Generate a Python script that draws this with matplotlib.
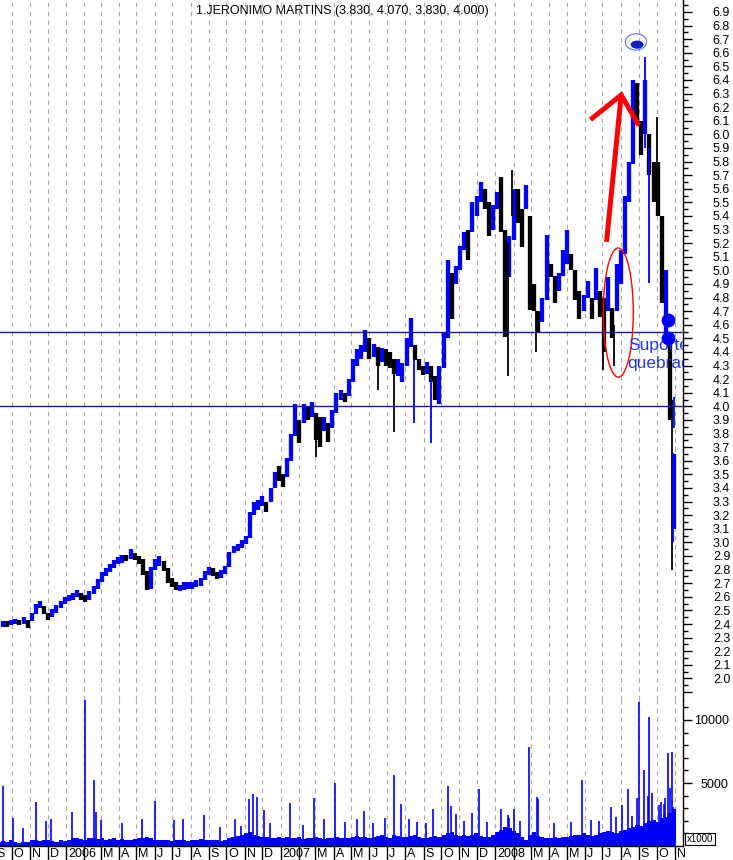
import numpy as np
import pandas as pd
import matplotlib
matplotlib.use('Agg')
import matplotlib.pyplot as plt
import matplotlib.dates as mdates
import matplotlib.transforms as mtransforms
from matplotlib.patches import Ellipse
from matplotlib.ticker import FixedLocator, NullLocator

plt.rcParams['font.family'] = ['Liberation Sans Narrow', 'Liberation Sans', 'DejaVu Sans']

title = "1.JERONIMO MARTINS (3.830, 4.070, 3.830, 4.000)"

# weekly bars (Friday of each week)
weeks = pd.date_range('2005-09-09', periods=165, freq='7D')
wk_low = [2.37, 2.38, 2.38, 2.39, 2.40, 2.39, 2.40, 2.37, 2.42, 2.47,
          2.52, 2.47, 2.43, 2.45, 2.48, 2.52, 2.55, 2.57, 2.58, 2.60,
          2.58, 2.56, 2.58, 2.62, 2.66, 2.71, 2.75, 2.78, 2.81, 2.84,
          2.85, 2.86, 2.88, 2.87, 2.84, 2.76, 2.65, 2.66, 2.80, 2.83,
          2.79, 2.70, 2.67, 2.65, 2.64, 2.65, 2.66, 2.66, 2.67, 2.68,
          2.72, 2.76, 2.75, 2.73, 2.74, 2.77, 2.82, 2.92, 2.94, 2.96,
          2.99, 3.03, 3.20, 3.24, 3.27, 3.22, 3.30, 3.40, 3.45, 3.41,
          3.48, 3.60, 3.78, 3.73, 3.88, 3.90, 3.92, 3.75, 3.70, 3.82,
          3.74, 3.84, 3.95, 4.05, 4.03, 4.08, 4.18, 4.30, 4.35, 4.40,
          4.35, 4.36, 4.30, 4.33, 4.30, 4.28, 4.24, 4.22, 4.18, 4.30,
          4.44, 4.34, 4.27, 4.23, 4.24, 4.18, 4.05, 4.02, 4.28, 4.50,
          4.64, 4.90, 5.00, 5.15, 5.08, 5.28, 5.40, 5.50, 5.45, 5.25,
          5.30, 5.45, 5.28, 4.51, 4.95, 5.22, 5.35, 5.17, 5.45, 4.71,
          4.70, 4.55, 4.62, 4.78, 4.95, 4.76, 4.85, 4.96, 5.05, 5.00,
          4.78, 4.64, 4.70, 4.80, 4.64, 4.78, 4.66, 4.40, 4.70, 4.50,
          4.70, 4.90, 5.12, 5.50, 5.78, 6.10, 5.85, 6.00, 5.70, 5.50,
          5.40, 4.76, 4.54, 3.90, 3.10]
wk_high = [2.41, 2.42, 2.42, 2.43, 2.44, 2.43, 2.45, 2.43, 2.48, 2.55,
           2.57, 2.53, 2.48, 2.51, 2.54, 2.57, 2.60, 2.61, 2.63, 2.65,
           2.63, 2.61, 2.64, 2.68, 2.73, 2.78, 2.81, 2.84, 2.87, 2.89,
           2.91, 2.91, 2.95, 2.92, 2.90, 2.88, 2.79, 2.82, 2.88, 2.90,
           2.86, 2.81, 2.74, 2.71, 2.69, 2.71, 2.71, 2.71, 2.72, 2.74,
           2.79, 2.82, 2.81, 2.78, 2.80, 2.83, 2.93, 2.97, 2.99, 3.02,
           3.05, 3.22, 3.30, 3.31, 3.34, 3.30, 3.40, 3.52, 3.56, 3.50,
           3.62, 3.80, 4.02, 3.90, 4.02, 4.00, 4.03, 3.95, 3.92, 3.92,
           3.88, 3.97, 4.10, 4.12, 4.10, 4.20, 4.35, 4.42, 4.45, 4.56,
           4.50, 4.46, 4.44, 4.43, 4.42, 4.40, 4.35, 4.35, 4.32, 4.50,
           4.65, 4.45, 4.35, 4.30, 4.33, 4.30, 4.22, 4.30, 4.55, 5.08,
           4.98, 5.03, 5.18, 5.28, 5.30, 5.50, 5.55, 5.65, 5.60, 5.50,
           5.48, 5.58, 5.69, 5.30, 5.25, 5.60, 5.60, 5.45, 5.63, 5.40,
           4.90, 4.70, 4.80, 5.26, 5.05, 4.96, 4.98, 5.15, 5.30, 5.12,
           5.00, 4.85, 4.82, 4.92, 4.80, 5.02, 4.85, 4.80, 4.95, 4.72,
           5.05, 5.15, 5.55, 5.80, 6.40, 6.38, 6.10, 6.40, 6.00, 5.80,
           5.80, 5.40, 5.00, 4.55, 3.65]
# b = up week (blue), k = down week (black)
wk_col = ("bbkbbkbkbb" "bkkbbbbbbb" "kkbbbbbbbb" "bkbkkkkbbb"
          "kkkkbbbbbb" "bbkkbbbbbb" "bbbbbkbbkk" "bbbkbkbkkb"
          "kbbbkbbbbb" "kbkbkkkbbb" "bkkkbkkbbb" "kbbbkbbbkk"
          "bbkkbbkkbk" "kkbbkkbbbk" "kkbbkbkkbk" "bbbbbkkbkk" "kkbkb")

# single-day extremes
spike_dates = pd.to_datetime(['2007-03-02', '2007-06-15', '2007-07-13', '2007-08-16',
                              '2007-09-14', '2008-01-22', '2008-01-30', '2008-03-10',
                              '2008-07-02', '2008-07-21', '2008-09-12', '2008-09-19',
                              '2008-10-01', '2008-10-27', '2008-10-29', '2008-10-31'])
spike_low = [3.63, 4.12, 3.81, 3.88, 3.73, 4.22, 5.40, 4.40,
             4.27, 4.30, 5.90, 4.91, 5.50, 2.80, 3.00, 3.84]
spike_high = [3.85, 4.35, 4.30, 4.35, 4.20, 5.20, 5.74, 4.70,
              4.60, 4.60, 6.57, 5.90, 6.13, 4.05, 3.66, 4.07]
spike_col = "kkkbbkkkkkbbkkbb"

# volume (x1000): typical weekly level + single busy days
vol_base = [350, 400, 300, 450, 350, 250, 300, 350, 450, 500,
            400, 450, 500, 400, 350, 450, 400, 500, 650, 600,
            550, 500, 600, 650, 550, 600, 500, 550, 600, 500,
            550, 500, 450, 550, 600, 650, 700, 600, 500, 450,
            500, 450, 400, 450, 500, 450, 400, 450, 500, 550,
            500, 450, 500, 450, 400, 500, 650, 700, 800, 900,
            1000, 1100, 900, 800, 700, 750, 650, 600, 700, 650,
            700, 600, 650, 700, 550, 600, 650, 700, 600, 550,
            650, 600, 700, 650, 600, 650, 700, 800, 750, 700,
            650, 700, 800, 850, 700, 650, 900, 800, 700, 750,
            800, 900, 700, 650, 600, 700, 800, 750, 850, 1000,
            1100, 900, 800, 850, 800, 900, 1000, 800, 700, 750,
            900, 1100, 1300, 1500, 1400, 1200, 1000, 700, 500, 900,
            1100, 800, 700, 650, 600, 700, 650, 750, 700, 800,
            850, 900, 1000, 900, 800, 900, 1000, 1100, 1200, 1100,
            1000, 1200, 1300, 1400, 1500, 1700, 1600, 1800, 2000, 2100,
            1900, 2200, 2300, 2600, 2900]
vol_peak_dates = pd.to_datetime([
    '2005-09-16', '2005-10-03', '2005-10-20', '2005-11-11', '2005-11-28', '2005-12-07',
    '2006-01-11', '2006-02-02', '2006-02-17', '2006-02-21', '2006-03-02', '2006-04-07',
    '2006-05-11', '2006-06-01', '2006-07-03', '2006-07-19', '2006-08-24', '2006-10-16',
    '2006-11-08', '2006-11-15', '2006-11-22', '2006-12-04', '2007-01-17', '2007-02-26',
    '2007-03-16', '2007-04-03', '2007-05-10', '2007-05-22', '2007-07-12', '2007-07-25',
    '2007-08-07', '2007-09-17', '2007-10-12', '2007-10-17', '2007-10-26', '2007-11-23',
    '2007-12-04', '2008-01-11', '2008-02-01', '2008-02-27', '2008-03-11', '2008-03-14',
    '2008-05-27', '2008-07-15', '2008-08-04', '2008-08-14', '2008-08-29', '2008-09-02',
    '2008-09-10', '2008-09-19', '2008-10-06', '2008-10-21', '2008-10-24', '2008-10-27',
    '2008-10-29',
    '2006-09-20', '2006-10-25', '2006-12-14', '2007-02-08', '2007-04-20', '2007-06-07',
    '2007-06-27', '2007-08-20', '2007-09-05', '2007-11-08', '2007-12-18', '2008-01-22',
    '2008-01-24', '2008-02-12', '2008-04-10', '2008-05-08', '2008-06-12', '2008-06-26',
    '2008-07-24', '2008-08-21', '2008-09-16', '2008-09-24', '2008-10-09', '2008-10-14',
    '2008-10-16'])
vol_peak = [4760, 2250, 1450, 3500, 1980, 2140,
            2700, 11670, 5240, 2700, 2060, 1820,
            2170, 3570, 2060, 2170, 2490, 2110,
            3730, 4130, 3860, 2860, 3390, 3810,
            2140, 5000, 2160, 2770, 5640, 3340,
            2170, 2960, 4760, 3180, 2540, 2650,
            4520, 2930, 2930, 7860, 3850, 3760,
            5240, 3120, 3230, 4520, 3810, 11430,
            6030, 10240, 3260, 7380, 4600, 7460,
            3120,
            1500, 1600, 1800, 1700, 1900, 1800,
            2200, 1900, 1800, 2000, 1900, 2500,
            2200, 2000, 1800, 1900, 2100, 2000,
            2300, 2400, 4000, 4200, 3500, 3300,
            3800]

month_starts = pd.date_range('2005-09-01', '2008-11-01', freq='MS')
month_names = "JFMAMJJASOND"
month_labels = []
for d in month_starts:
    if d.month == 1:
        month_labels.append(str(d.year))
    elif d.month == 2:
        month_labels.append('')
    else:
        month_labels.append(month_names[d.month - 1])

support_levels = [4.55, 4.0]

BLUE = '#0000ff'
colmap = {'b': BLUE, 'k': '#000000'}

W, H = 733, 860
fig = plt.figure(figsize=(W / 100, H / 100), dpi=100)


def box(x0, y0, x1, y1):
    return [x0 / W, 1 - y1 / H, (x1 - x0) / W, (y1 - y0) / H]


axp = fig.add_axes(box(0, 0, 683, 700))
axv = fig.add_axes(box(0, 700, 683, 846), sharex=axp)

xmin, xmax = pd.Timestamp('2005-09-11'), pd.Timestamp('2008-11-15')
axp.set_xlim(xmin, xmax)
axp.set_ylim(6.9 - (700 - 12) / 136, 6.9 + 12 / 136)
axv.set_ylim(0, (846 - 700) * 5000 / 63)

# month grid
for ax in (axp, axv):
    for d in month_starts:
        ax.axvline(d, color='#a8a8a8', lw=0.8, dashes=(4, 4), zorder=0)

# price bars
axp.vlines(weeks, wk_low, wk_high, colors=[colmap[c] for c in wk_col], lw=3.1, zorder=3)
axp.vlines(spike_dates, spike_low, spike_high, colors=[colmap[c] for c in spike_col],
           lw=1.3, zorder=3)

for lev in support_levels:
    axp.axhline(lev, color='#1c1c90', lw=1.0, zorder=4)

# annotations drawn on the chart
axp.add_patch(Ellipse((mdates.date2num(pd.Timestamp('2008-07-28')), 4.69), 51, 0.95,
                      fill=False, ec='red', lw=1.0, zorder=5))
arrow_d = pd.to_datetime(['2008-07-08', '2008-08-02'])
axp.plot(arrow_d, [5.21, 6.29], color='red', lw=3.6, solid_capstyle='butt', zorder=5)
axp.plot(pd.to_datetime(['2008-06-14', '2008-08-02', '2008-08-30']), [6.12, 6.29, 6.08],
         color='red', lw=3.6, solid_joinstyle='miter', zorder=5)
axp.plot(pd.to_datetime(['2008-10-21', '2008-10-20']), [4.635, 4.50], 'o',
         color=BLUE, ms=9, zorder=6)
axp.text(pd.Timestamp('2008-08-13'), 4.415, 'Suporte', color='#2238d8', fontsize=12.5,
         family=['Liberation Sans', 'DejaVu Sans'], va='baseline', ha='left', zorder=5,
         clip_on=True)
axp.text(pd.Timestamp('2008-08-13'), 4.28, 'quebrado', color='#2238d8', fontsize=12.5,
         family=['Liberation Sans', 'DejaVu Sans'], va='baseline', ha='left', zorder=5,
         clip_on=True)
# small bear icon above the top
bx = mdates.date2num(pd.Timestamp('2008-08-27'))
axp.add_patch(Ellipse((bx, 6.68), 36, 0.12, fill=False, ec='#6070ff', lw=0.8, zorder=6))
axp.add_patch(Ellipse((bx + 2, 6.66), 22, 0.06, fc='#1020c0', ec='none', zorder=6))

# volume
axv.bar(weeks, vol_base, width=7, color=BLUE, lw=0, zorder=3)
axv.vlines(vol_peak_dates, 0, vol_peak, colors=BLUE, lw=1.2, zorder=3)

# axes styling
for ax in (axp, axv):
    for s in ('left', 'top'):
        ax.spines[s].set_visible(False)
    ax.spines['right'].set_linewidth(1.0)
    ax.yaxis.tick_right()
    ax.set_facecolor('none')
axp.spines['bottom'].set_visible(False)
axp.tick_params(axis='x', bottom=False, labelbottom=False)

price_ticks = np.arange(19, 70) / 10
axp.yaxis.set_major_locator(FixedLocator(price_ticks))
axp.yaxis.set_minor_locator(FixedLocator(price_ticks + 0.05))
axp.set_yticklabels(['' if v < 2 else f'{v:.1f}' for v in price_ticks])
axp.tick_params(axis='y', which='major', length=6.5, width=1, pad=15, labelsize=9)
axp.tick_params(axis='y', which='minor', length=3.6, width=1)

axv.yaxis.set_major_locator(FixedLocator([5000, 10000]))
axv.yaxis.set_minor_locator(FixedLocator(np.arange(1000, 12000, 1000)))
axv.set_yticklabels(['5000', '10000'])
axv.tick_params(axis='y', which='major', length=6.5, width=1, pad=26.5, labelsize=9)
axv.tick_params(axis='y', which='minor', length=3.6, width=1)
for lab in axv.get_yticklabels():
    lab.set_horizontalalignment('right')

axv.spines['bottom'].set_linewidth(1.0)
axv.xaxis.set_major_locator(FixedLocator(mdates.date2num(month_starts)))
axv.xaxis.set_minor_locator(NullLocator())
axv.tick_params(axis='x', which='major', length=10.5, width=1, labelbottom=False)
lab_tr = mtransforms.offset_copy(axv.get_xaxis_transform(), fig=fig, x=2, y=-2,
                                 units='dots')
for d, lab in zip(month_starts, month_labels):
    if lab:
        axv.text(d, 0, lab, transform=lab_tr, ha='left', va='top', fontsize=9,
                 clip_on=False)

fig.text(342 / W, 1 - 11 / H, title, ha='center', va='center', fontsize=9)
fig.text(700 / W, 1 - 839 / H, 'x1000', ha='center', va='center', fontsize=7,
         bbox=dict(boxstyle='square,pad=0.15', fc='white', ec='black', lw=0.8))

fig.savefig('out.png', dpi=100)
